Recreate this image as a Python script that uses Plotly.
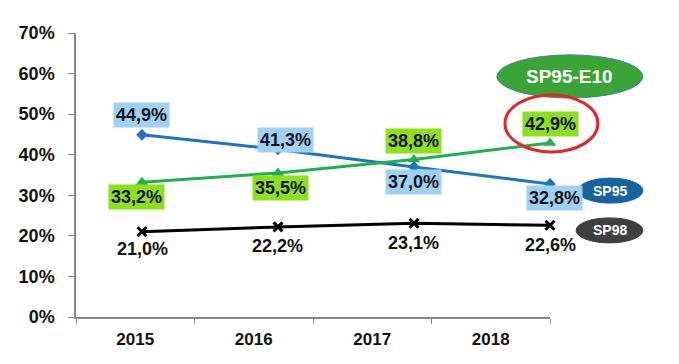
import plotly.graph_objects as go

years = ["2015", "2016", "2017", "2018"]
sp95 = [44.9, 41.3, 37.0, 32.8]
e10 = [33.2, 35.5, 38.8, 42.9]
sp98 = [21.0, 22.2, 23.1, 22.6]
y_ticks = [0, 10, 20, 30, 40, 50, 60, 70]

FONT = "Liberation Sans, Arial, sans-serif"
BLUE = "#1f72c4"
GREEN = "#1fb04e"
BLUE_BG = "#9fd1f7"
GREEN_BG = "#8fe01c"

idx = list(range(len(years)))

fig = go.Figure()

fig.add_trace(go.Scatter(x=years, y=[None]*4, xaxis="x", yaxis="y", showlegend=False, hoverinfo="skip"))

fig.add_trace(go.Scatter(x=idx, y=[v/100 for v in sp95], xaxis="x2", yaxis="y", mode="lines+markers",
                         line=dict(color=BLUE, width=3), marker=dict(symbol="diamond", size=9, color=BLUE),
                         cliponaxis=False, showlegend=False))
fig.add_trace(go.Scatter(x=idx, y=[v/100 for v in e10], xaxis="x2", yaxis="y", mode="lines+markers",
                         line=dict(color=GREEN, width=3), marker=dict(symbol="triangle-up", size=11, color=GREEN),
                         cliponaxis=False, showlegend=False))
fig.add_trace(go.Scatter(x=idx, y=[v/100 for v in sp98], xaxis="x2", yaxis="y", mode="lines+markers",
                         line=dict(color="black", width=3), marker=dict(symbol="x-thin", size=9, color="black",
                                                                       line=dict(width=3, color="black")),
                         cliponaxis=False, showlegend=False))

def fmt(v):
    return f"{v:.1f}%".replace(".", ",")

annotations = []
sp95_shift = [(0, 19.5), (8, 9), (0, -15.5), (4.5, -14.5)]
e10_shift = [(-5.5, -15), (3, -15), (0, 18.5), (0, 18.5)]
sp98_shift = [(1, -17), (0, -19), (0, -20), (0, -20)]
for series, shifts, bg in [(sp95, sp95_shift, BLUE_BG), (e10, e10_shift, GREEN_BG), (sp98, sp98_shift, None)]:
    for i, v, (dx, dy) in zip(idx, series, shifts):
        a = dict(x=i, y=v/100, xref="x2", yref="y", text=fmt(v), showarrow=False,
                 xanchor="center", yanchor="middle",
                 xshift=dx, yshift=dy, font=dict(family=FONT, size=18, color="#111111", weight="bold"),
                 borderpad=2)
        if bg:
            a["bgcolor"] = bg
        annotations.append(a)

annotations += [
    dict(x=1.042, y=0.847, xref="paper", yref="paper", text="<b>SP95-E10</b>", showarrow=False,
         xanchor="center", yanchor="middle", font=dict(family=FONT, size=19, color="white")),
    dict(x=1.127, y=0.445, xref="paper", yref="paper", text="<b>SP95</b>", showarrow=False,
         xanchor="center", yanchor="middle", font=dict(family=FONT, size=14, color="white")),
    dict(x=1.126, y=0.305, xref="paper", yref="paper", text="<b>SP98</b>", showarrow=False,
         xanchor="center", yanchor="middle", font=dict(family=FONT, size=14, color="white")),
]

shapes = [
    dict(type="circle", xref="paper", yref="paper", x0=0.888, x1=1.196, y0=0.771, y1=0.923,
         fillcolor="#3aa536", line=dict(color="#4a7fa0", width=1), layer="below"),
    dict(type="circle", xref="paper", yref="paper", x0=0.905, x1=1.101, y0=0.581, y1=0.782,
         fillcolor="rgba(0,0,0,0)", line=dict(color="#e8212b", width=3), layer="above"),
    dict(type="circle", xref="paper", yref="paper", x0=1.059, x1=1.196, y0=0.401, y1=0.489,
         fillcolor="#17629f", line=dict(color="#17629f", width=1), layer="below"),
    dict(type="circle", xref="paper", yref="paper", x0=1.055, x1=1.196, y0=0.261, y1=0.349,
         fillcolor="#3f3f3f", line=dict(color="#3f3f3f", width=1), layer="below"),
]

fig.update_layout(
    width=679, height=364,
    margin=dict(l=76, r=129, t=33, b=47),
    paper_bgcolor="white", plot_bgcolor="white",
    showlegend=False,
    annotations=annotations, shapes=shapes,
    xaxis=dict(type="category", range=[-0.5, 3.5], showgrid=False, showline=True, linecolor="#888888",
               linewidth=1.5, ticks="outside", ticklen=5, tickcolor="#888888", tickson="boundaries",
               tickfont=dict(family=FONT, size=17, color="#111111", weight="bold"), ticklabelstandoff=6,
               zeroline=False),
    xaxis2=dict(type="linear", range=[-0.485, 3.0], overlaying="x", side="top",
                showticklabels=False, showline=False, showgrid=False, ticks="", zeroline=False),
    yaxis=dict(range=[0, 0.7], tickvals=[t/100 for t in y_ticks], ticktext=[f"{t}%" for t in y_ticks],
               showgrid=False, showline=True, linecolor="#888888", linewidth=1.5, ticks="outside",
               ticklen=6, tickcolor="#888888", zeroline=False, ticklabelstandoff=10,
               tickfont=dict(family=FONT, size=18, color="#111111", weight="bold")),
)

fig.write_html("out.html", post_script="document.body.style.margin='0';",
               config={"displayModeBar": False})
